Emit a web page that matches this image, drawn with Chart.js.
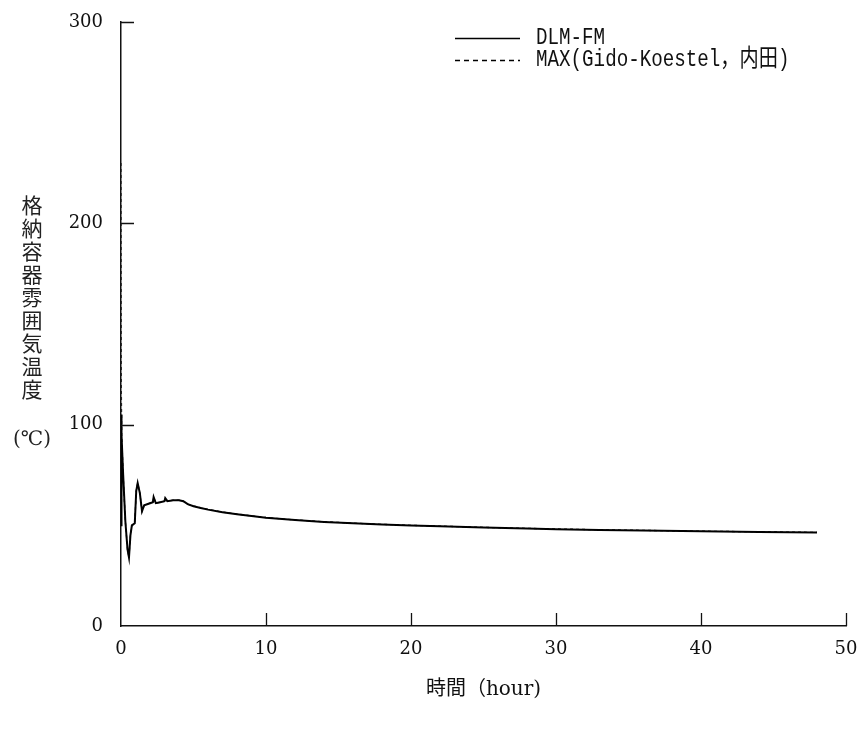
<!DOCTYPE html>
<html>
<head>
<meta charset="utf-8">
<script src="https://cdn.jsdelivr.net/npm/chart.js@4/dist/chart.umd.min.js"></script>
<style>
html,body{margin:0;padding:0;background:#fff;}
#wrap{width:862px;height:731px;position:relative;}
</style>
</head>
<body>
<div id="wrap"><canvas id="c" width="862" height="731"></canvas></div>
<script>
// ---- data ----
const dlmTime = [0, 0.02, 0.05, 0.15, 0.3, 0.45, 0.55, 0.65, 0.75, 0.95, 1.05, 1.15, 1.3, 1.45, 1.6, 1.8, 2.0, 2.2, 2.25, 2.4, 2.7, 3.0, 3.05, 3.2, 3.6, 4.0, 4.3, 4.6, 5.0, 5.5, 6, 7, 8, 9, 10, 12, 14, 16, 18, 20, 22, 25, 28, 30, 33, 36, 40, 44, 48];
const dlmTemp = [50, 105, 95, 75, 52, 38, 34, 45, 50, 51, 67, 71, 66, 57, 60, 60.5, 61, 61.5, 64, 61, 61.5, 62, 63.5, 62, 62.5, 62.5, 62, 60.5, 59.5, 58.6, 57.8, 56.5, 55.5, 54.6, 53.8, 52.6, 51.7, 51, 50.4, 49.9, 49.5, 48.9, 48.4, 48.1, 47.7, 47.4, 47, 46.7, 46.4];
const maxTime = [0, 0.02, 0.05, 0.15, 0.3, 0.45, 0.55, 0.65, 0.75, 0.95, 1.05, 1.15, 1.3, 1.45, 1.6, 1.8, 2.0, 2.2, 2.25, 2.4, 2.7, 3.0, 3.05, 3.2, 3.6, 4.0, 4.3, 4.6, 5.0, 5.5, 6, 7, 8, 9, 10, 12, 14, 16, 18, 20, 22, 25, 28, 30, 33, 36, 40, 44, 48];
const maxTemp = [230, 120, 95, 75, 52, 38, 34, 45, 50, 51, 67, 71, 66, 57, 60, 60.5, 61, 61.5, 64, 61, 61.5, 62, 63.5, 62, 62.5, 62.5, 62, 60.5, 59.6, 58.7, 57.9, 56.6, 55.6, 54.7, 53.9, 52.7, 51.8, 51.1, 50.5, 50.0, 49.6, 49.0, 48.5, 48.2, 47.8, 47.5, 47.1, 46.8, 46.5];
const xTicks = [0, 10, 20, 30, 40, 50];
const yTicks = [0, 100, 200, 300];
const seriesNames = ['DLM-FM', 'MAX(Gido-Koestel，内田)'];
const yTitleChars = ['格', '納', '容', '器', '雰', '囲', '気', '温', '度'];
const yUnit = '(℃)';
const xTitle = '時間（hour)';

const toXY = (t, v) => t.map((x, i) => ({x: x, y: v[i]}));

const zeroPad = s => { s.paddingLeft = 0; s.paddingRight = 0; s.paddingTop = 0; s.paddingBottom = 0; };

const decor = {
  id: 'decor',
  afterDraw(chart) {
    const ctx = chart.ctx;
    const xs = chart.scales.x, ys = chart.scales.y;
    const ca = chart.chartArea;
    ctx.save();
    ctx.strokeStyle = '#111';
    ctx.lineWidth = 1.3;
    // inward ticks
    ctx.beginPath();
    xTicks.forEach(v => {
      if (v === 0) return;
      const px = Math.round(xs.getPixelForValue(v)) + 0.5;
      ctx.moveTo(px, ca.bottom);
      ctx.lineTo(px, ca.bottom - 13);
    });
    yTicks.forEach(v => {
      if (v === 0) return;
      const py = Math.round(ys.getPixelForValue(v)) + 0.5;
      ctx.moveTo(ca.left, py);
      ctx.lineTo(ca.left + 13, py);
    });
    ctx.stroke();

    // y title (vertical)
    ctx.fillStyle = '#222';
    ctx.textAlign = 'center';
    ctx.textBaseline = 'middle';
    ctx.font = '21px "Noto Sans CJK JP"';
    yTitleChars.forEach((ch, i) => {
      ctx.fillText(ch, 32, 205 + i * 23);
    });
    ctx.font = '20px "DejaVu Serif", "Noto Sans CJK JP"';
    ctx.fillText(yUnit, 32, 440);

    // legend
    ctx.lineWidth = 1.5;
    ctx.strokeStyle = '#000';
    ctx.beginPath();
    ctx.moveTo(455, 38.5); ctx.lineTo(520, 38.5);
    ctx.stroke();
    ctx.setLineDash([5, 4]);
    ctx.beginPath();
    ctx.moveTo(455, 60.5); ctx.lineTo(520, 60.5);
    ctx.stroke();
    ctx.setLineDash([]);
    ctx.textAlign = 'left';
    ctx.fillStyle = '#111';
    const lines = [[seriesNames[0], 38], [seriesNames[1], 60]];
    lines.forEach(([txt, y]) => {
      ctx.save();
      ctx.translate(536, y);
      ctx.scale(0.8, 1);
      ctx.font = '24px "Liberation Mono", "Noto Sans CJK JP"';
      ctx.fillText(txt, 0, 0);
      ctx.restore();
    });
    ctx.restore();
  }
};

new Chart(document.getElementById('c'), {
  type: 'line',
  data: {
    datasets: [
      {
        label: seriesNames[0],
        data: toXY(dlmTime, dlmTemp),
        borderColor: '#000',
        borderWidth: 2,
        pointRadius: 0,
        tension: 0,
        fill: false
      },
      {
        label: seriesNames[1],
        data: toXY(maxTime, maxTemp),
        borderColor: '#222',
        borderWidth: 1.3,
        borderDash: [3, 3],
        pointRadius: 0,
        tension: 0,
        fill: false
      }
    ]
  },
  options: {
    responsive: false,
    animation: false,
    devicePixelRatio: 1,
    layout: {padding: {left: 0, right: 16, top: 22, bottom: 0}},
    plugins: {legend: {display: false}, tooltip: {enabled: false}},
    scales: {
      x: {
        type: 'linear',
        min: 0, max: 50,
        afterBuildTicks: s => { s.ticks = xTicks.map(v => ({value: v})); },
        afterFit: s => { s.height = 105; zeroPad(s); },
        grid: {display: false, drawTicks: false},
        border: {display: true, color: '#111', width: 1.5},
        ticks: {padding: 13, color: '#111', font: {family: '"DejaVu Serif"', size: 18}, maxRotation: 0},
        title: {display: true, text: xTitle, color: '#111', font: {family: '"DejaVu Serif", "Noto Sans CJK JP"', size: 20}, padding: {top: 0, bottom: 29}}
      },
      y: {
        type: 'linear',
        min: 0, max: 300,
        afterBuildTicks: s => { s.ticks = yTicks.map(v => ({value: v})); },
        afterFit: s => { s.width = 121; zeroPad(s); },
        grid: {display: false, drawTicks: false},
        border: {display: true, color: '#111', width: 1.5},
        ticks: {padding: 18, color: '#111', font: {family: '"DejaVu Serif"', size: 18}}
      }
    }
  },
  plugins: [decor]
});
</script>
</body>
</html>
